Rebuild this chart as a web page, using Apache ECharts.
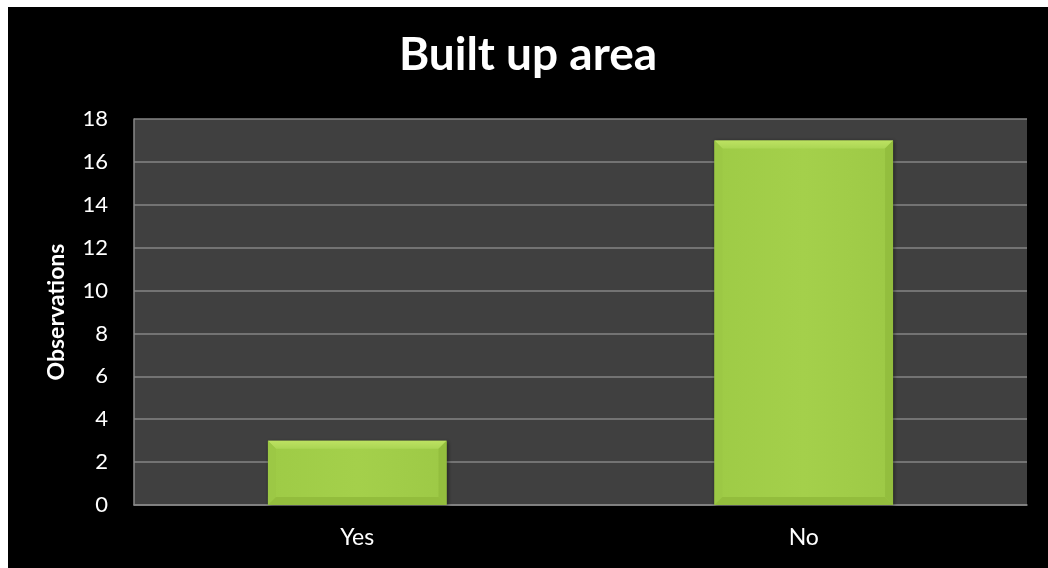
<!DOCTYPE html>
<html>
<head>
<meta charset="utf-8">
<script src="https://cdn.jsdelivr.net/npm/echarts@6/dist/echarts.min.js"></script>
<style>
  html, body { margin: 0; padding: 0; background: #ffffff; }
  #chart { position: absolute; left: 8px; top: 7px; width: 1040px; height: 561px; background: #000000; }
</style>
</head>
<body>
<div id="chart"></div>
<script>
// Survey answers and their counts
const categories = ['Yes', 'No'];
const observations = [3, 17];
const yTicks = { min: 0, max: 18, interval: 2 };

const FONT = 'Lato, "Open Sans", sans-serif';
const chart = echarts.init(document.getElementById('chart'));

// Bevelled green bar: a flat face with a lighter top edge and softly darker sides/bottom
function renderBar(params, api) {
  const idx = api.value(0);
  const val = api.value(1);
  const top = api.coord([idx, val]);
  const base = api.coord([idx, 0]);
  const bw = api.size([1, 0])[0] * 0.4;
  const x0 = top[0] - bw / 2, x1 = top[0] + bw / 2;
  const y0 = top[1], y1 = base[1];
  const b = Math.min(8, (y1 - y0) / 2, bw / 2);
  const face = new echarts.graphic.LinearGradient(0, 0, 1, 0, [
    { offset: 0, color: '#9ecb46' },
    { offset: 0.5, color: '#a4d04b' },
    { offset: 1, color: '#9dc946' }
  ]);
  return {
    type: 'group',
    children: [
      { type: 'rect', shape: { x: x0, y: y0, width: bw, height: y1 - y0 },
        style: { fill: face, shadowBlur: 4, shadowColor: 'rgba(0,0,0,0.5)', shadowOffsetX: 1, shadowOffsetY: 1 } },
      { type: 'polygon', shape: { points: [[x0, y0], [x1, y0], [x1 - b, y0 + b], [x0 + b, y0 + b]] },
        style: { fill: new echarts.graphic.LinearGradient(0, 0, 0, 1, [
          { offset: 0, color: '#bde262' }, { offset: 1, color: '#abd654' }]) } },
      { type: 'polygon', shape: { points: [[x0, y0], [x0 + b, y0 + b], [x0 + b, y1 - b], [x0, y1]] },
        style: { fill: '#9cc845' } },
      { type: 'polygon', shape: { points: [[x1, y0], [x1, y1], [x1 - b, y1 - b], [x1 - b, y0 + b]] },
        style: { fill: '#93be3e' } },
      { type: 'polygon', shape: { points: [[x0, y1], [x0 + b, y1 - b], [x1 - b, y1 - b], [x1, y1]] },
        style: { fill: '#93bd3d' } }
    ]
  };
}

chart.setOption({
  backgroundColor: '#000000',
  animation: false,
  title: {
    text: 'Built up area',
    left: 'center',
    top: 20,
    textStyle: { color: '#ffffff', fontFamily: FONT, fontWeight: 'bold', fontSize: 46 }
  },
  grid: {
    left: 126, top: 112, right: 21, bottom: 63,
    show: true, backgroundColor: '#404040', borderWidth: 0
  },
  xAxis: {
    type: 'category',
    data: categories,
    axisLine: { show: true, lineStyle: { color: '#888888', width: 1.5 } },
    axisTick: { show: false },
    axisLabel: { color: '#ffffff', fontFamily: FONT, fontSize: 23, margin: 21 }
  },
  yAxis: {
    type: 'value',
    min: yTicks.min, max: yTicks.max, interval: yTicks.interval,
    name: 'Observations',
    nameLocation: 'middle',
    nameGap: 66,
    nameTextStyle: { color: '#ffffff', fontFamily: FONT, fontWeight: 'bold', fontSize: 23 },
    axisLine: { show: true, lineStyle: { color: '#888888', width: 1.5 } },
    axisTick: { show: false },
    axisLabel: { color: '#ffffff', fontFamily: FONT, fontSize: 22, margin: 26 },
    splitLine: { show: true, lineStyle: { color: '#858585', width: 1.5 } }
  },
  series: [{
    type: 'custom',
    renderItem: renderBar,
    data: observations.map((v, i) => [i, v]),
    encode: { x: 0, y: 1 }
  }]
});
</script>
</body>
</html>
